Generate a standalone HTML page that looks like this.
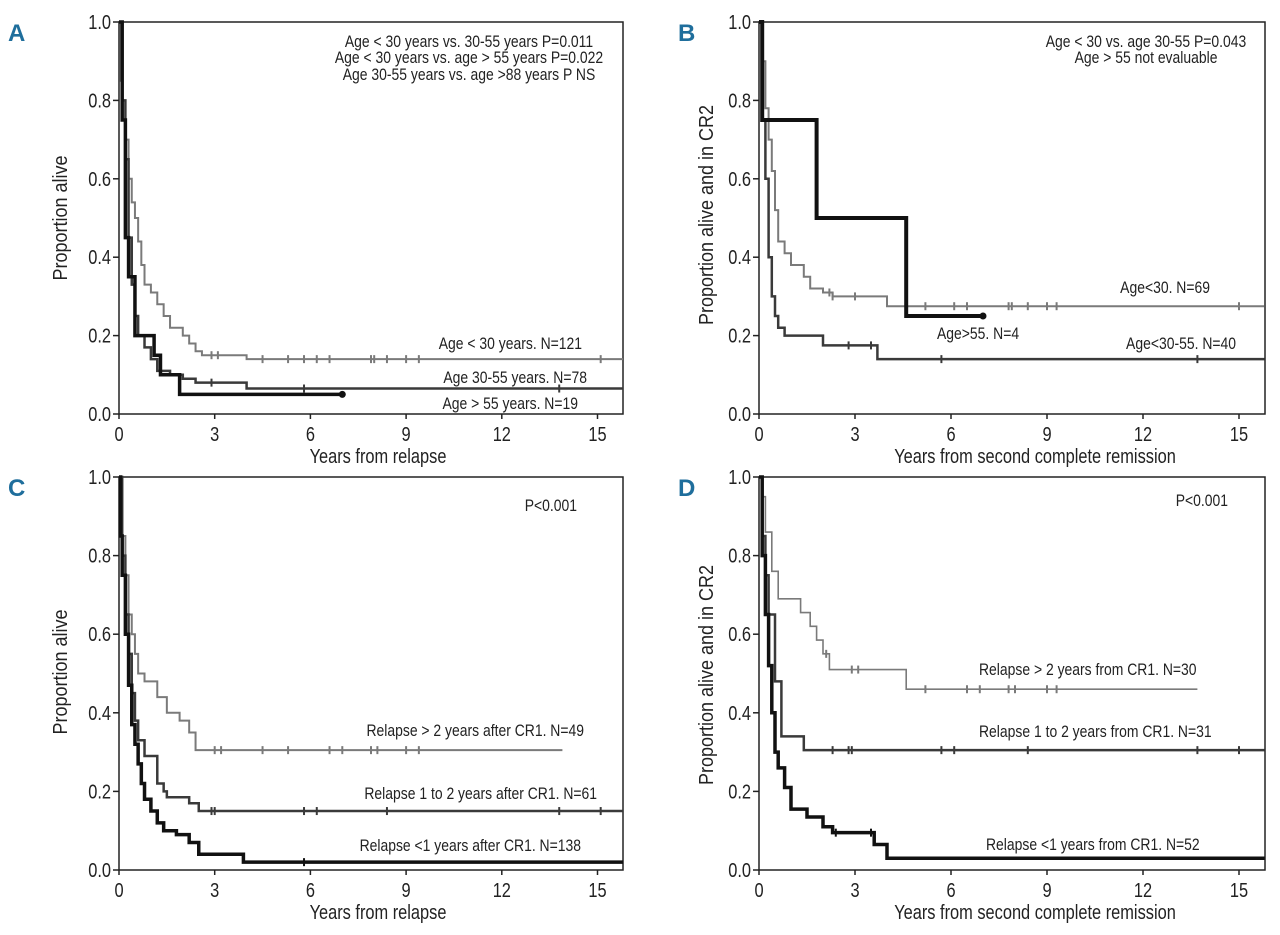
<!DOCTYPE html>
<html><head><meta charset="utf-8"><style>
html,body{margin:0;padding:0;background:#fff;}
svg{display:block;font-family:"Liberation Sans",sans-serif;}
</style></head><body>
<svg id="fig" width="1280" height="935" viewBox="0 0 1280 935"></svg>
<script>
// ---- data (years, proportion) ----
const xTicks = [0,3,6,9,12,15];
const yTicks = [0,0.2,0.4,0.6,0.8,1.0];
const yTickLabels = ["0.0","0.2","0.4","0.6","0.8","1.0"];

const aYoungT = [0,0.05,0.1,0.2,0.3,0.4,0.5,0.6,0.7,0.8,1.0,1.2,1.4,1.6,2.0,2.2,2.4,2.6,4.0];
const aYoungS = [1,0.85,0.75,0.7,0.6,0.54,0.5,0.44,0.38,0.33,0.31,0.28,0.25,0.22,0.2,0.18,0.16,0.15,0.14];
const aYoungC = [2.9,3.1,4.5,5.3,5.8,6.2,6.6,7.9,8.0,8.4,9.0,9.4,15.1];
const aMidT = [0,0.1,0.2,0.3,0.4,0.5,0.6,0.8,1.0,1.2,1.6,2.0,2.4,4.0];
const aMidS = [1,0.8,0.65,0.45,0.33,0.25,0.2,0.17,0.14,0.11,0.1,0.09,0.08,0.065];
const aMidC = [2.9,5.8,13.8];
const aOldT = [0,0.1,0.2,0.3,0.5,1.1,1.3,1.9];
const aOldS = [1,0.75,0.45,0.35,0.2,0.15,0.1,0.05];

const bYoungT = [0,0.1,0.2,0.3,0.4,0.5,0.6,0.8,1.0,1.4,1.6,2.0,2.3,4.0];
const bYoungS = [1,0.9,0.78,0.7,0.62,0.52,0.44,0.41,0.38,0.35,0.32,0.31,0.3,0.275];
const bYoungC = [2.2,2.3,3.0,5.2,6.1,6.5,7.8,7.9,8.4,9.0,9.3,15.0];
const bMidT = [0,0.1,0.2,0.3,0.4,0.5,0.6,0.8,2.0,3.7];
const bMidS = [1,0.75,0.6,0.4,0.3,0.25,0.22,0.2,0.175,0.14];
const bMidC = [2.8,3.5,5.7,13.7];
const bOldT = [0,0.1,1.8,4.6];
const bOldS = [1,0.75,0.5,0.25];

const cLateT = [0,0.1,0.2,0.3,0.4,0.5,0.6,0.8,1.2,1.5,1.9,2.2,2.4];
const cLateS = [1,0.85,0.75,0.65,0.6,0.55,0.5,0.48,0.44,0.4,0.38,0.35,0.305];
const cLateC = [3.0,3.2,4.5,5.3,6.6,7.0,7.9,8.1,9.0,9.4];
const cMidT = [0,0.1,0.2,0.3,0.4,0.5,0.6,0.8,1.2,1.4,1.5,2.2,2.5];
const cMidS = [1,0.8,0.65,0.55,0.45,0.38,0.33,0.29,0.22,0.2,0.185,0.17,0.15];
const cMidC = [2.9,3.0,5.8,6.2,8.4,13.8,15.1];
const cEarlyT = [0,0.05,0.1,0.2,0.3,0.4,0.5,0.6,0.7,0.8,1.0,1.2,1.4,1.8,2.2,2.5,3.9];
const cEarlyS = [1,0.85,0.75,0.6,0.47,0.37,0.32,0.27,0.22,0.18,0.15,0.12,0.1,0.09,0.07,0.04,0.02];
const cEarlyC = [5.8];

const dLateT = [0,0.1,0.2,0.4,0.6,1.3,1.6,1.8,2.0,2.2,4.6];
const dLateS = [1,0.95,0.86,0.76,0.69,0.655,0.62,0.585,0.55,0.51,0.46];
const dLateC = [2.1,2.9,3.1,5.2,6.5,6.9,7.8,8.0,9.0,9.3];
const dMidT = [0,0.1,0.2,0.3,0.5,0.7,1.4];
const dMidS = [1,0.85,0.75,0.65,0.48,0.34,0.305];
const dMidC = [2.3,2.8,2.9,5.7,6.1,8.4,13.7,15.0];
const dEarlyT = [0,0.1,0.2,0.3,0.4,0.5,0.6,0.8,1.0,1.5,2.0,2.3,3.6,4.0];
const dEarlyS = [1,0.8,0.65,0.52,0.4,0.3,0.26,0.21,0.155,0.135,0.11,0.095,0.065,0.03];
const dEarlyC = [2.4,3.5];

const NS = "http://www.w3.org/2000/svg";
const svg = document.getElementById('fig');
function el(tag, attrs, parent){ const e=document.createElementNS(NS,tag); for(const k in attrs) e.setAttribute(k,attrs[k]); (parent||svg).appendChild(e); return e; }
function txt(s,x,y,size,anchor,parent,sx,rot){
  const e=el('text',{transform:`translate(${x},${y}) rotate(${rot||0}) scale(${sx||0.82},1)`,'font-size':size,'text-anchor':anchor||'start',fill:'#222'},parent);
  e.textContent=s; return e;
}

function panel(p){
  const g=el('g',{});
  
  
  const X=t=>p.x0+t*p.yr, Y=v=>p.bot-(p.bot-p.top)*v;
  const right=p.right;
  const box=el('rect',{x:p.x0,y:p.top,width:right-p.x0,height:p.bot-p.top,fill:'none',stroke:'#222','stroke-width':1.5},g);
   
  const ax=el('g',{},g);
   
  xTicks.forEach(t=>{ el('line',{x1:X(t),x2:X(t),y1:p.bot,y2:p.bot+5,stroke:'#222','stroke-width':1.5},ax);
    const l=txt(String(t),X(t),p.bot+27,20,'middle',ax);   });
  const ay=el('g',{},g);
   
  yTicks.forEach((v,i)=>{ el('line',{x1:p.x0-6,x2:p.x0,y1:Y(v),y2:Y(v),stroke:'#222','stroke-width':1.5},ay);
    const l=txt(yTickLabels[i],p.x0-8,Y(v)+7,20,'end',ay);   });
  const xt=txt(p.xTitle,p.xtx,p.bot+49,20,'middle',g);  
  const yt=txt(p.yTitle,p.ytx,p.yty,20,'middle',g,0.9,-90);  
  const lt=el('text',{x:p.lx,y:p.ly,'font-size':24,'font-weight':'bold',fill:'#1f6e9c'},g);
  lt.textContent=p.id;  
  p.curves.forEach(c=>{
    let d=`M${X(c.t[0])},${Y(c.s[0])}`;
    for(let i=1;i<c.t.length;i++){ d+=`H${X(c.t[i])}V${Y(c.s[i])}`; }
    d+=`H${X(c.end)}`;
    const path=el('path',{d,fill:'none',stroke:c.color,'stroke-width':c.w,'stroke-linejoin':'miter'},g);
     
    c.cens.forEach(ct=>{
      let v=c.s[0]; for(let i=0;i<c.t.length;i++){ if(c.t[i]<=ct) v=c.s[i]; }
      const m=el('line',{x1:X(ct),x2:X(ct),y1:Y(v)-4,y2:Y(v)+4,stroke:c.color,'stroke-width':2},g);
       
    });
    if(c.dot){ const dt=el('circle',{cx:X(c.end),cy:Y(c.s[c.s.length-1]),r:3.5,fill:c.color},g);
        }
  });
  p.notes.forEach(n=>{ const t=txt(n[0],n[1],n[2],17,n[3],g);   });
}

const GR='#7a7a7a', DK='#3a3a3a', BK='#111';
const top1=22, bot1=414, top2=477, bot2=870;
panel({id:'A',x0:119,yr:31.9,right:623,top:top1,bot:bot1,xTitle:'Years from relapse',xtx:378,yTitle:'Proportion alive',ytx:67,yty:218,lx:8,ly:41,
  curves:[
   {name:'age-under-30',t:aYoungT,s:aYoungS,cens:aYoungC,end:15.8,color:GR,w:2},
   {name:'age-30-55',t:aMidT,s:aMidS,cens:aMidC,end:15.8,color:DK,w:2.5},
   {name:'age-over-55',t:aOldT,s:aOldS,cens:[],end:7.0,color:BK,w:3.5,dot:true}],
  notes:[['Age < 30 years vs. 30-55 years P=0.011',469,47,'middle','p-value-note'],
   ['Age < 30 years vs. age > 55 years P=0.022',469,63,'middle','p-value-note'],
   ['Age 30-55 years vs. age >88 years P NS',469,80,'middle','p-value-note'],
   ['Age < 30 years. N=121',582,349,'end','curve-label'],
   ['Age 30-55 years. N=78',587,383,'end','curve-label'],
   ['Age > 55 years. N=19',578,409,'end','curve-label']]});
panel({id:'B',x0:759,yr:32.0,right:1265,top:top1,bot:bot1,xTitle:'Years from second complete remission',xtx:1035,yTitle:'Proportion alive and in CR2',ytx:713,yty:215,lx:678,ly:41,
  curves:[
   {name:'age-under-30',t:bYoungT,s:bYoungS,cens:bYoungC,end:15.8,color:GR,w:2},
   {name:'age-30-55',t:bMidT,s:bMidS,cens:bMidC,end:15.8,color:DK,w:2.5},
   {name:'age-over-55',t:bOldT,s:bOldS,cens:[],end:7.0,color:BK,w:4,dot:true}],
  notes:[['Age < 30 vs. age 30-55 P=0.043',1146,47,'middle','p-value-note'],
   ['Age > 55 not evaluable',1146,63,'middle','p-value-note'],
   ['Age<30. N=69',1210,293,'end','curve-label'],
   ['Age>55. N=4',937,339,'start','curve-label'],
   ['Age<30-55. N=40',1236,349,'end','curve-label']]});
panel({id:'C',x0:119,yr:31.9,right:623,top:top2,bot:bot2,xTitle:'Years from relapse',xtx:378,yTitle:'Proportion alive',ytx:67,yty:672,lx:8,ly:496,
  curves:[
   {name:'relapse-over-2y',t:cLateT,s:cLateS,cens:cLateC,end:13.9,color:GR,w:2},
   {name:'relapse-1-2y',t:cMidT,s:cMidS,cens:cMidC,end:15.8,color:DK,w:2.5},
   {name:'relapse-under-1y',t:cEarlyT,s:cEarlyS,cens:cEarlyC,end:15.8,color:BK,w:3.5}],
  notes:[['P<0.001',577,511,'end','p-value-note'],
   ['Relapse > 2 years after CR1. N=49',584,736,'end','curve-label'],
   ['Relapse 1 to 2 years after CR1. N=61',597,799,'end','curve-label'],
   ['Relapse <1 years after CR1. N=138',581,851,'end','curve-label']]});
panel({id:'D',x0:759,yr:32.0,right:1265,top:top2,bot:bot2,xTitle:'Years from second complete remission',xtx:1035,yTitle:'Proportion alive and in CR2',ytx:713,yty:675,lx:678,ly:496,
  curves:[
   {name:'relapse-over-2y',t:dLateT,s:dLateS,cens:dLateC,end:13.7,color:GR,w:1.6},
   {name:'relapse-1-2y',t:dMidT,s:dMidS,cens:dMidC,end:15.8,color:DK,w:2.5},
   {name:'relapse-under-1y',t:dEarlyT,s:dEarlyS,cens:dEarlyC,end:15.8,color:BK,w:3.5}],
  notes:[['P<0.001',1228,506,'end','p-value-note'],
   ['Relapse > 2 years from CR1. N=30',979,675,'start','curve-label'],
   ['Relapse 1 to 2 years from CR1. N=31',979,737,'start','curve-label'],
   ['Relapse <1 years from CR1. N=52',986,850,'start','curve-label']]});
</script>
</body></html>
